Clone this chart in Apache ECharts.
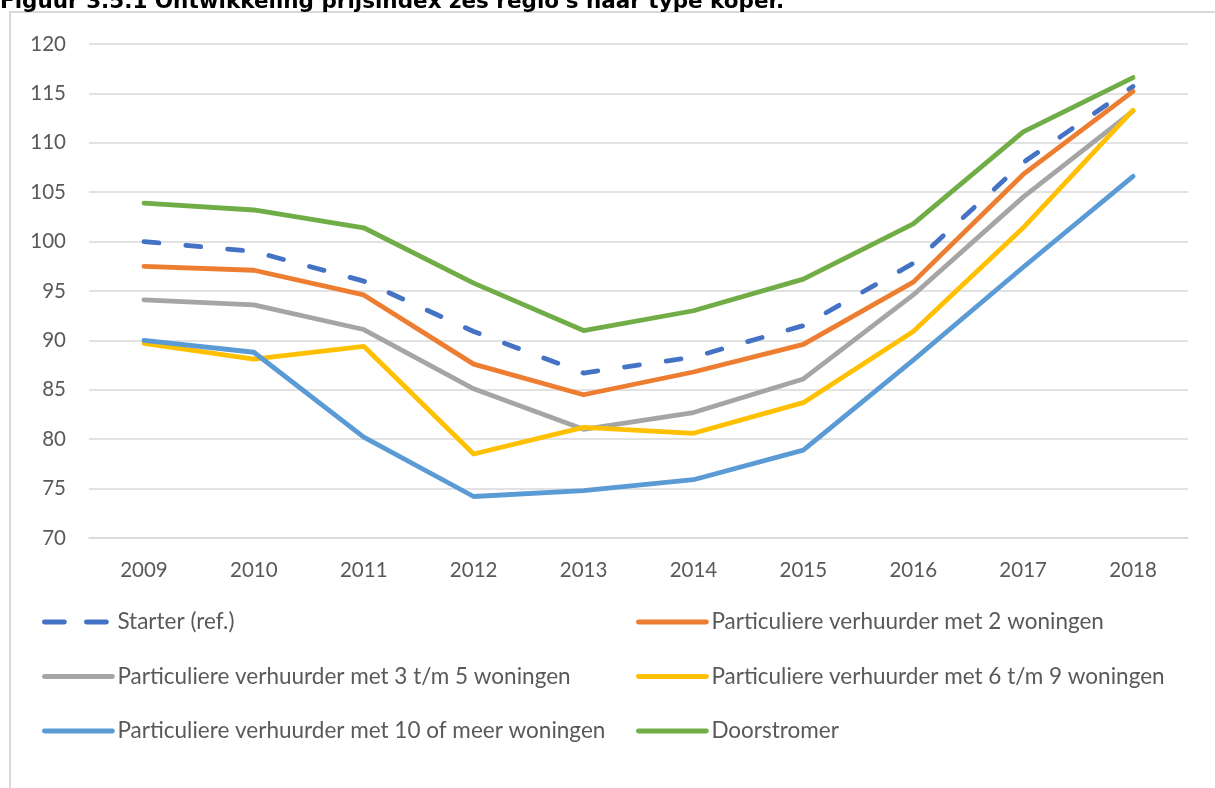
<!DOCTYPE html>
<html>
<head>
<meta charset="utf-8">
<script src="https://cdn.jsdelivr.net/npm/echarts@6/dist/echarts.min.js"></script>
<style>
  html, body { margin: 0; padding: 0; background: #fff; }
  #chart { width: 1215px; height: 788px; }
</style>
</head>
<body>
<div id="chart"></div>
<script>
const years = ['2009', '2010', '2011', '2012', '2013', '2014', '2015', '2016', '2017', '2018']

const starter = [100.0, 99.0, 96.0, 90.9, 86.7, 88.3, 91.5, 97.8, 108.0, 115.7]
const verhuurder2 = [97.5, 97.1, 94.6, 87.6, 84.5, 86.8, 89.6, 95.9, 106.8, 115.2]
const verhuurder3to5 = [94.1, 93.6, 91.1, 85.1, 81.0, 82.7, 86.1, 94.6, 104.5, 113.2]
const verhuurder6to9 = [89.7, 88.1, 89.4, 78.5, 81.2, 80.6, 83.7, 90.9, 101.4, 113.3]
const verhuurder10plus = [90.0, 88.8, 80.2, 74.2, 74.8, 75.9, 78.9, 88.0, 97.4, 106.6]
const doorstromer = [103.9, 103.2, 101.4, 95.8, 91.0, 93.0, 96.2, 101.8, 111.1, 116.6]

const names = [
  'Starter (ref.)',
  'Particuliere verhuurder met 2 woningen',
  'Particuliere verhuurder met 3 t/m 5 woningen',
  'Particuliere verhuurder met 6 t/m 9 woningen',
  'Particuliere verhuurder met 10 of meer woningen',
  'Doorstromer'
]
const colors = ['#4472C4', '#ED7D31', '#A5A5A5', '#FFC000', '#5B9BD5', '#70AD47']
const values = [starter, verhuurder2, verhuurder3to5, verhuurder6to9, verhuurder10plus, doorstromer]

const font = 'Lato, "Open Sans", sans-serif'
const textColor = '#595959'
const gridColor = '#d9d9d9'

const chart = echarts.init(document.getElementById('chart'), null, { renderer: 'canvas' })

// legend entries; the starter one gets a longer dash like the original
function legendItem(name) {
  const item = { name }
  if (name === names[0]) item.lineStyle = { type: [20, 22] }
  return item
}

const legendBase = {
  orient: 'vertical',
  top: 604,
  itemWidth: 68,
  itemHeight: 6,
  itemGap: 28.5,
  itemStyle: { opacity: 0 },
  lineStyle: { width: 4.8, cap: 'round' },
  textStyle: { color: textColor, fontSize: 22.5, fontFamily: font, lineHeight: 26 }
}

chart.setOption({
  animation: false,
  graphic: [
    {
      type: 'rect',
      shape: { x: 10, y: 12, width: 1400, height: 1000 },
      style: { fill: 'none', stroke: gridColor, lineWidth: 2 },
      silent: true
    },
    {
      type: 'text',
      left: 0,
      top: -9,
      style: {
        text: "Figuur 3.5.1 Ontwikkeling prijsindex zes regio's naar type koper.",
        font: 'bold 21.5px "DejaVu Sans", Verdana, sans-serif',
        fill: '#000'
      },
      silent: true
    }
  ],
  grid: { left: 89, right: 27, top: 44, bottom: 250, containLabel: false },
  legend: [
    Object.assign({}, legendBase, { left: 37, data: [names[0], names[2], names[4]].map(legendItem) }),
    Object.assign({}, legendBase, { left: 631, data: [names[1], names[3], names[5]].map(legendItem) })
  ],
  xAxis: {
    type: 'category',
    data: years,
    boundaryGap: true,
    axisLine: { lineStyle: { color: gridColor, width: 1.5 } },
    axisTick: { show: false },
    axisLabel: { color: textColor, fontSize: 20.5, fontFamily: font, margin: 22 }
  },
  yAxis: {
    type: 'value',
    min: 70,
    max: 120,
    interval: 5,
    axisLine: { show: false },
    axisTick: { show: false },
    splitLine: { lineStyle: { color: gridColor, width: 1.5 } },
    axisLabel: { color: textColor, fontSize: 20.5, fontFamily: font, margin: 23 }
  },
  series: names.map((name, i) => ({
    name,
    type: 'line',
    data: values[i],
    symbol: 'none',
    color: colors[i],
    lineStyle: {
      color: colors[i],
      width: 4.8,
      cap: 'round',
      join: 'round',
      type: i === 0 ? [15, 27] : 'solid'
    }
  }))
})
</script>
</body>
</html>
